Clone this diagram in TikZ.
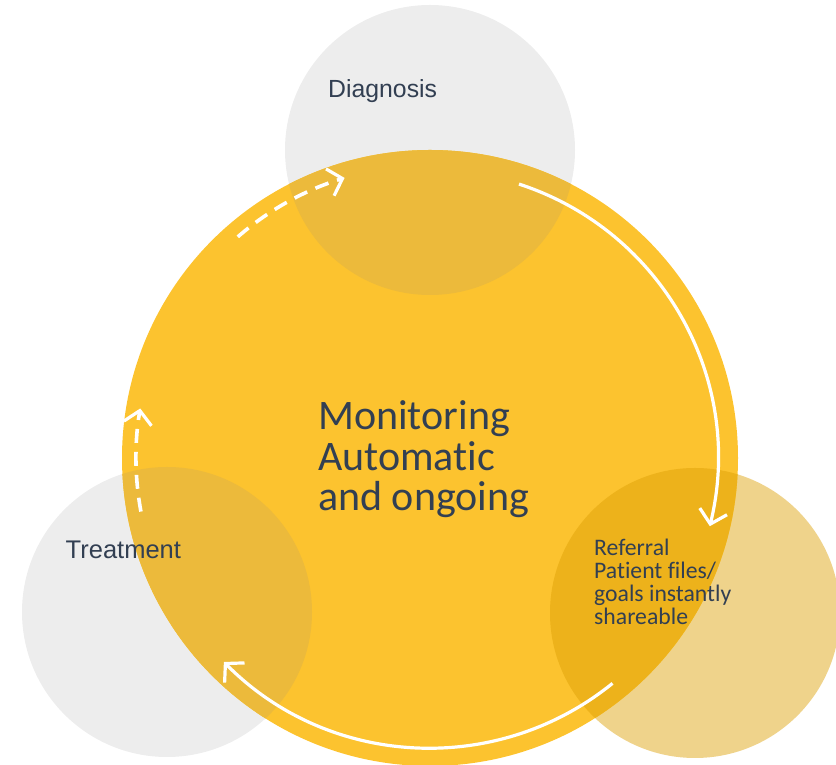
\documentclass[tikz,border=0pt]{standalone}
\usepackage{fontspec}
\setmainfont{Carlito}[Ligatures={NoCommon}]
\newfontfamily\arialfont{Liberation Sans}
\usetikzlibrary{arrows.meta}
\definecolor{ymain}{HTML}{FCC32F}
\definecolor{gcirc}{HTML}{EDEDED}
\definecolor{gover}{HTML}{ECBA3B}
\definecolor{tcirc}{HTML}{EFD38B}
\definecolor{tover}{HTML}{EDB21B}
\definecolor{txt}{HTML}{323F52}
\tikzset{
  flow/.style={draw=white, line width=3.2pt, -{Straight Barb[length=13pt,width=28pt,line width=3.2pt]}},
  flowdash/.style={flow, line width=3.6pt, dash pattern=on 14pt off 9pt},
  lbl/.style={text=txt, inner sep=0pt},
}
\begin{document}
\begin{tikzpicture}[x=1pt,y=1pt]
\useasboundingbox (0,0) rectangle (836,765);
\coordinate (C) at (430,307);
\coordinate (D) at (430,615);
\coordinate (T) at (167,153);
\coordinate (R) at (695,152);
% grey circles
\fill[gcirc] (D) circle[radius=145];
\fill[gcirc] (T) circle[radius=145];
\fill[tcirc] (R) circle[radius=145];
% main circle
\fill[ymain] (C) circle[radius=308];
\begin{scope}
  \clip (C) circle[radius=308];
  \fill[gover] (D) circle[radius=145];
  \fill[gover] (T) circle[radius=145];
  \fill[tover] (R) circle[radius=145];
\end{scope}
% arrows
\draw[flow] (C) ++(72:288) arc[start angle=72, end angle=-13.7, radius=288];
\draw[flow] (C) ++(-51:290) arc[start angle=-51, end angle=-135.3, radius=290];
\draw[flowdash] (C) ++(190.5:294) arc[start angle=190.5, end angle=170.3, radius=294];
\draw[flowdash] (C) ++(131:293) arc[start angle=131, end angle=106.8, radius=291];
% labels
\node[lbl, anchor=north west, align=left, font=\fontsize{42}{40.5}\selectfont] (mon) at (318,364.3) {Monitoring\\Automatic\\and ongoing};
\node[lbl, anchor=base west, font=\arialfont\fontsize{24.8}{28}\selectfont] (diag) at (328,667.7) {Diagnosis};
\node[lbl, anchor=base west, font=\arialfont\fontsize{25.5}{28}\selectfont] (treat) at (65.5,206.7) {Treatment};
\node[lbl, anchor=north west, align=left, font=\fontsize{23.7}{23}\selectfont] (ref) at (594,226) {Referral\\Patient files/\\goals instantly\\shareable};
\end{tikzpicture}
\end{document}
